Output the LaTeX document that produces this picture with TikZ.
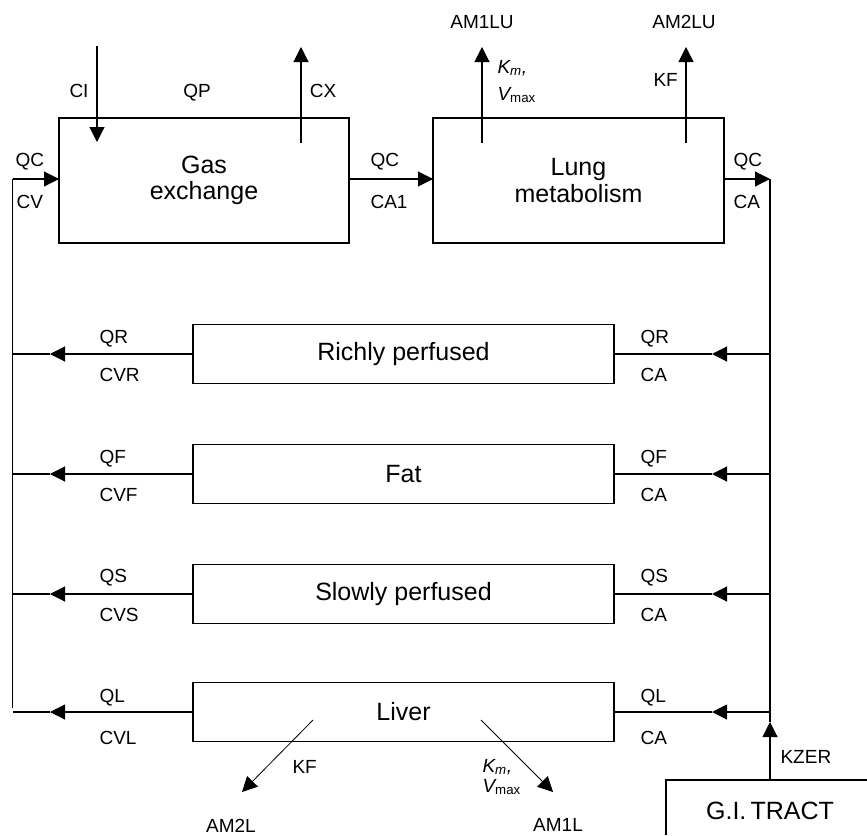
\documentclass[tikz,border=0pt]{standalone}
\usepackage{fontspec}
\setmainfont{Liberation Sans}
\usetikzlibrary{arrows.meta}
\begin{document}
\begin{tikzpicture}[x=1pt,y=-1pt,
  line width=1.1pt,
  arr/.style={-{Triangle[length=15pt,width=15pt]}},
  thinarr/.style={line width=0.8pt,-{Triangle[length=15pt,width=15pt]}},
  box/.style={draw,rectangle,inner sep=0pt,outer sep=0pt,align=center,
    font=\fontsize{25}{26.5}\selectfont},
  lbl/.style={inner sep=0pt,font=\fontsize{19}{19}\selectfont}]
\useasboundingbox (0,0) rectangle (867,835);

% --- top boxes ---
\node[box,minimum width=290pt,minimum height=125pt] (ge) at (204,180.5) {Gas\\exchange};
\node[box,minimum width=291pt,minimum height=125pt] (lm) at (578.5,180.5) {Lung\\metabolism};

% --- main loop ---
\coordinate (inL) at (12.5,179);
\coordinate (vlbot) at (12.5,708);
\coordinate (outR) at (770,179);
\coordinate (kzTip) at (770,722);
\coordinate (gitop) at (770,780);
\draw (vlbot) -- (inL);
\draw[arr] (inL) -- (inL -| ge.west);
\draw[arr] (inL -| ge.east) -- (inL -| lm.west);
\draw[arr] (inL -| lm.east) -- (outR);
\draw (outR) -- (kzTip);
\draw[arr] (gitop) -- (kzTip);

% --- top vertical arrows ---
\coordinate (ciS) at (97,46);  \coordinate (ciE) at (97,142);
\coordinate (cxS) at (301,143); \coordinate (cxE) at (301,47);
\coordinate (a1S) at (482,143); \coordinate (a1E) at (482,47);
\coordinate (a2S) at (686,143); \coordinate (a2E) at (686,47);
\draw[arr] (ciS) -- (ciE);
\draw[arr] (cxS) -- (cxE);
\draw[arr] (a1S) -- (a1E);
\draw[arr] (a2S) -- (a2E);

% --- top labels ---
\node[lbl,anchor=base west] (qcl) at (15,166) {QC};
\node[lbl,anchor=base west] (cv) at (16,208) {CV};
\node[lbl,anchor=base] (ci) at (79,97) {CI};
\node[lbl,anchor=base] (qp) at (197,97) {QP};
\node[lbl,anchor=base] (cx) at (323,97) {CX};
\node[lbl,anchor=base west] (qcm) at (370,166) {QC};
\node[lbl,anchor=base west] (ca1) at (370,208) {CA1};
\node[lbl,anchor=base west] (qcr) at (733,166) {QC};
\node[lbl,anchor=base west] (car) at (733,208) {CA};
\node[lbl,anchor=base] (am1lu) at (482,28) {AM1LU};
\node[lbl,anchor=base] (am2lu) at (684,28) {AM2LU};
\node[lbl,anchor=base west] (km1) at (497,73) {\itshape K\textsubscript{m},};
\node[lbl,anchor=base west] (vm1) at (497,100) {\itshape V\textsubscript{\upshape max}};
\node[lbl,anchor=base west] (kf1) at (653,86) {KF};

% --- compartment rows ---
\foreach \n/\y/\t/\q/\c/\qa/\cb in {
  rich/354/Richly perfused/QR/CVR/343/381,
  fat/474/Fat/QF/CVF/463/501,
  slow/594/Slowly perfused/QS/CVS/582/621,
  liver/712/Liver/QL/CVL/702/744}{
  \node[box,minimum width=421pt,minimum height=59pt] (\n) at (403.5,\y) {\t};
  \coordinate (\n Ltip) at (50,\y);
  \coordinate (\n Lend) at (12.5,\y);
  \coordinate (\n Rstart) at (770,\y);
  \coordinate (\n Rtip) at (712,\y);
  \draw[arr] (\n.west) -- (\n Ltip);
  \draw (\n Ltip) -- (\n Lend);
  \draw[arr] (\n Rstart) -- (\n Rtip);
  \draw (\n Rtip) -- (\n.east);
  \node[lbl,anchor=base west] (\n ql) at (99,\qa) {\q};
  \node[lbl,anchor=base west] (\n cl) at (99,\cb) {\c};
  \node[lbl,anchor=base west] (\n qr) at (640,\qa) {\q};
  \node[lbl,anchor=base west] (\n cr) at (640,\cb) {CA};
}

% --- liver outputs ---
\coordinate (lkfS) at (313,720); \coordinate (lkfE) at (242,792);
\coordinate (lkmS) at (481,720); \coordinate (lkmE) at (553,792);
\draw[thinarr] (lkfS) -- (lkfE);
\draw[thinarr] (lkmS) -- (lkmE);
\node[lbl,anchor=base west] (kf2) at (292,773) {KF};
\node[lbl,anchor=base] (am2l) at (231,832) {AM2L};
\node[lbl,anchor=base west] (km2) at (482,772) {\itshape K\textsubscript{m},};
\node[lbl,anchor=base west] (vm2) at (482,792) {\itshape V\textsubscript{\upshape max}};
\node[lbl,anchor=base] (am1l) at (558,831) {AM1L};

% --- G.I. tract ---
\draw (666,835) |- (867,780);
\node[inner sep=0pt,anchor=base,font=\fontsize{25}{25}\selectfont] (gi) at (770,819) {G.I.\,TRACT};
\node[lbl,anchor=base west] (kzer) at (780,763) {KZER};
\end{tikzpicture}
\end{document}
